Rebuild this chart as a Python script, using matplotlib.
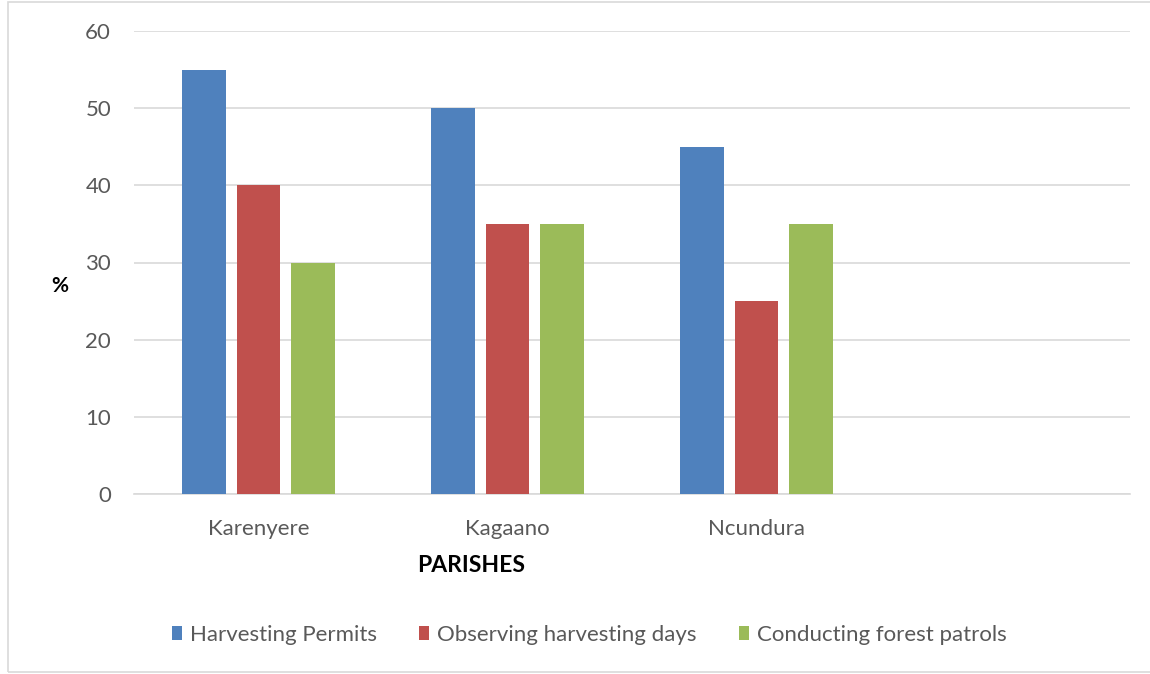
import matplotlib
matplotlib.use("Agg")
import matplotlib.pyplot as plt
import numpy as np
from matplotlib.patches import Rectangle

plt.rcParams['font.family'] = ['Lato', 'DejaVu Sans']

parishes = ["Karenyere", "Kagaano", "Ncundura", ""]
series_names = ["Harvesting Permits", "Observing harvesting days", "Conducting forest patrols"]
harvesting_permits = [55, 50, 45]
observing_days = [40, 35, 25]
forest_patrols = [30, 35, 35]
colors = ["#4F81BD", "#C0504D", "#9BBB59"]
yticks = [0, 10, 20, 30, 40, 50, 60]

W, H = 1150, 674
fig = plt.figure(figsize=(W / 100, H / 100), dpi=100)
fig.patch.set_facecolor("white")

# chart frame
fig.add_artist(Rectangle((8 / W, 2 / H), (W + 10) / W, (H - 4) / H,
                         transform=fig.transFigure, fill=False,
                         edgecolor="#D9D9D9", linewidth=1.2))

ax = fig.add_axes([134 / W, 180 / H, (1130 - 134) / W, (494 - 31) / H])

x = np.arange(len(parishes))
width = 0.176
offsets = [-0.22, 0.0, 0.22]
for vals, off, col, name in zip([harvesting_permits, observing_days, forest_patrols],
                                offsets, colors, series_names):
    ax.bar(x[:len(vals)] + off, vals, width, color=col, label=name, zorder=3)

ax.set_xlim(-0.5, len(parishes) - 0.5)
ax.set_ylim(0, 60)
ax.set_yticks(yticks)
ax.yaxis.grid(True, color="#D9D9D9", linewidth=1.2, zorder=0)
ax.set_axisbelow(True)
for s in ["top", "right", "left"]:
    ax.spines[s].set_visible(False)
ax.spines["bottom"].set_color("#D9D9D9")
ax.spines["bottom"].set_linewidth(1.2)
ax.tick_params(axis="both", length=0, labelsize=16, labelcolor="#595959")
ax.tick_params(axis="y", pad=16.5)
ax.tick_params(axis="x", pad=18)
ax.set_xticks(x)
ax.set_xticklabels(parishes)

fig.text(60 / W, 1 - 286 / H, "%", ha="center", va="center",
         fontsize=15, fontweight="bold", color="black")
fig.text(471 / W, 1 - 565 / H, "PARISHES", ha="center", va="center",
         fontsize=16.5, fontweight="bold", color="black")

leg = fig.legend(loc="center", bbox_to_anchor=(589 / W, 1 - 635 / H), ncol=3,
                 frameon=False, fontsize=16, handlelength=0.45, handleheight=0.55,
                 handletextpad=0.36, columnspacing=1.9, labelcolor="#595959")

fig.savefig("out.png", dpi=100)
